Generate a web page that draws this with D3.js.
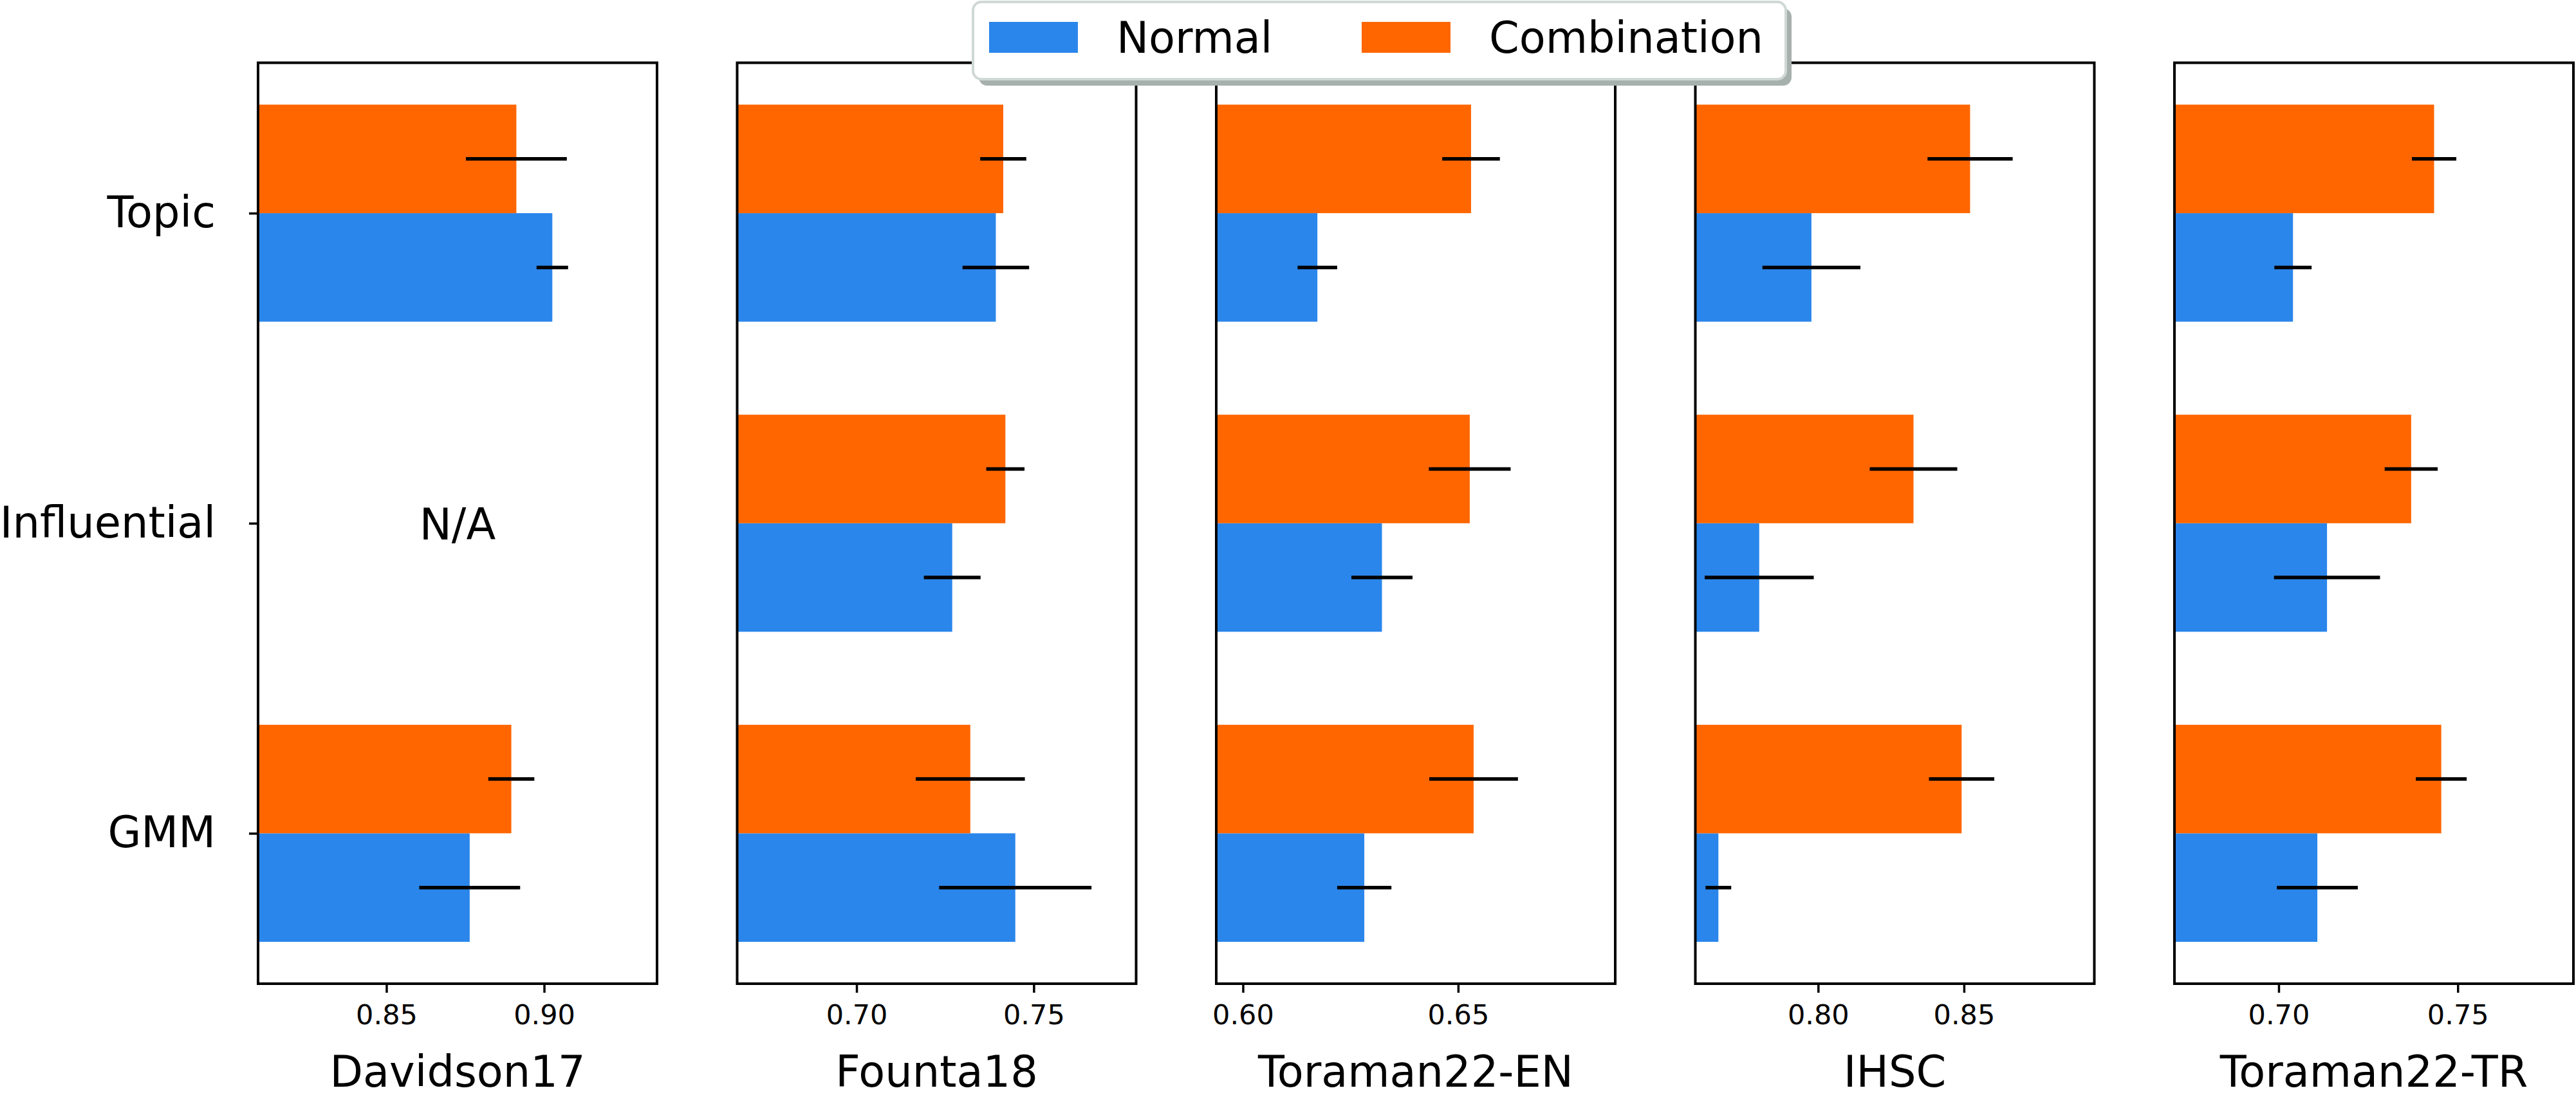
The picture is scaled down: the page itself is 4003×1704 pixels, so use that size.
<!DOCTYPE html>
<html>
<head>
<meta charset="utf-8">
<script src="https://cdn.jsdelivr.net/npm/d3@7"></script>
<style>
  body { margin: 0; background: #fff; }
  text { font-family: "DejaVu Sans", sans-serif; fill: #000; }
</style>
</head>
<body>
<div id="chart"></div>
<script>
// datasets, left to right
const datasets = ["Davidson17", "Founta18", "Toraman22-EN", "IHSC", "Toraman22-TR"];
// methods, top to bottom
const methods = ["Topic", "Influential", "GMM"];
const seriesNames = ["Normal", "Combination"];

// values per dataset, ordered as methods (null = not available)
const normalScore = [
    [0.9026, null, 0.8764],
    [0.7393, 0.7270, 0.7448],
    [0.6173, 0.6323, 0.6282],
    [0.7977, 0.7798, 0.7658],
    [0.7040, 0.7135, 0.7108]
];
const normalErr = [
    [0.0050, null, 0.0160],
    [0.0094, 0.0080, 0.0215],
    [0.0046, 0.0071, 0.0063],
    [0.0168, 0.0187, 0.0044],
    [0.0052, 0.0148, 0.0113]
];
const comboScore = [
    [0.8912, null, 0.8896],
    [0.7414, 0.7420, 0.7321],
    [0.6530, 0.6527, 0.6536],
    [0.8521, 0.8327, 0.8492],
    [0.7434, 0.7370, 0.7454]
];
const comboErr = [
    [0.0160, null, 0.0073],
    [0.0065, 0.0054, 0.0154],
    [0.0067, 0.0095, 0.0103],
    [0.0146, 0.0150, 0.0112],
    [0.0062, 0.0074, 0.0071]
];

// x extents and tick labels per panel
const xDomains = [
    [0.8093, 0.9358],
    [0.6663, 0.7789],
    [0.5938, 0.6865],
    [0.7579, 0.8947],
    [0.6709, 0.7823]
];
const xTicks = [
    [0.85, 0.90],
    [0.70, 0.75],
    [0.60, 0.65],
    [0.80, 0.85],
    [0.70, 0.75]
];

const W = 4003, H = 1704;
const colors = { Normal: "#2a86eb", Combination: "#ff6600" };
const panel = { left: 401, step: 744.5, width: 620, top: 97.5, bottom: 1528 };
const barH = 0.35;

const svg = d3.select("#chart").append("svg")
    .attr("width", W)
    .attr("height", H);

// y position: Topic = 2 (top), GMM = 0 (bottom)
const yScale = d3.scaleLinear()
    .domain([-0.485, 2.485])
    .range([panel.bottom, panel.top]);
const yIndex = m => methods.length - 1 - methods.indexOf(m);

datasets.forEach((name, d) => {
    const x0 = panel.left + d * panel.step;
    const g = svg.append("g").attr("transform", `translate(${x0},0)`);
    const xScale = d3.scaleLinear().domain(xDomains[d]).range([0, panel.width]);

    const rows = [];
    methods.forEach((m, i) => {
        if (normalScore[d][i] !== null)
            rows.push({ m, s: "Normal", v: normalScore[d][i], e: normalErr[d][i], off: -barH / 2 });
        if (comboScore[d][i] !== null)
            rows.push({ m, s: "Combination", v: comboScore[d][i], e: comboErr[d][i], off: barH / 2 });
    });

    g.selectAll("rect.bar").data(rows).enter().append("rect")
        .attr("class", "bar")
        .attr("x", 0)
        .attr("y", r => yScale(yIndex(r.m) + r.off + barH / 2))
        .attr("width", r => xScale(r.v))
        .attr("height", r => yScale(0) - yScale(barH))
        .attr("fill", r => colors[r.s]);

    g.selectAll("line.err").data(rows).enter().append("line")
        .attr("class", "err")
        .attr("x1", r => xScale(r.v - r.e))
        .attr("x2", r => xScale(r.v + r.e))
        .attr("y1", r => yScale(yIndex(r.m) + r.off))
        .attr("y2", r => yScale(yIndex(r.m) + r.off))
        .attr("stroke", "#000")
        .attr("stroke-width", 5.5);

    // missing entries
    methods.forEach((m, i) => {
        if (normalScore[d][i] === null && comboScore[d][i] === null) {
            g.append("text")
                .attr("x", panel.width / 2)
                .attr("y", yScale(yIndex(m)))
                .attr("dy", "0.38em")
                .attr("text-anchor", "middle")
                .style("font-size", "67px")
                .text("N/A");
        }
    });

    const xAxis = g.append("g")
        .attr("transform", `translate(0,${panel.bottom})`)
        .call(d3.axisBottom(xScale).tickValues(xTicks[d]).tickFormat(d3.format(".2f"))
            .tickSize(14).tickPadding(18));
    xAxis.select(".domain").remove();
    xAxis.selectAll("line").attr("stroke-width", 3.5);
    xAxis.selectAll("text").style("font-size", "43px").style("font-family", "DejaVu Sans");

    if (d === 0) {
        const yAxis = g.append("g")
            .call(d3.axisLeft(yScale).tickValues([0, 1, 2])
                .tickFormat(v => methods[methods.length - 1 - v])
                .tickSize(14).tickPadding(52));
        yAxis.select(".domain").remove();
        yAxis.selectAll("line").attr("stroke-width", 3.5);
        yAxis.selectAll("text").style("font-size", "67px").style("font-family", "DejaVu Sans");
    }

    g.append("rect")
        .attr("x", 0)
        .attr("y", panel.top)
        .attr("width", panel.width)
        .attr("height", panel.bottom - panel.top)
        .attr("fill", "none")
        .attr("stroke", "#000")
        .attr("stroke-width", 4);

    g.append("text")
        .attr("x", panel.width / 2)
        .attr("y", 1688)
        .attr("text-anchor", "middle")
        .style("font-size", "67px")
        .text(name);
});

// legend
const leg = svg.append("g").attr("transform", "translate(1512,3)");
leg.append("rect")
    .attr("x", 9).attr("y", 10)
    .attr("width", 1263).attr("height", 120)
    .attr("rx", 13)
    .attr("fill", "#a6b0ad");
leg.append("rect")
    .attr("width", 1263).attr("height", 120)
    .attr("rx", 13)
    .attr("fill", "#fff")
    .attr("stroke", "#d0d8d6")
    .attr("stroke-width", 4);

const legX = d3.scalePoint().domain(seriesNames).range([25, 604]);
const items = leg.selectAll("g.item").data(seriesNames).enter().append("g")
    .attr("class", "item")
    .attr("transform", s => `translate(${legX(s)},0)`);
items.append("rect")
    .attr("y", 31).attr("width", 138).attr("height", 48)
    .attr("fill", s => colors[s]);
items.append("text")
    .attr("x", 198).attr("y", 79)
    .style("font-size", "67px")
    .text(s => s);
</script>
</body>
</html>
